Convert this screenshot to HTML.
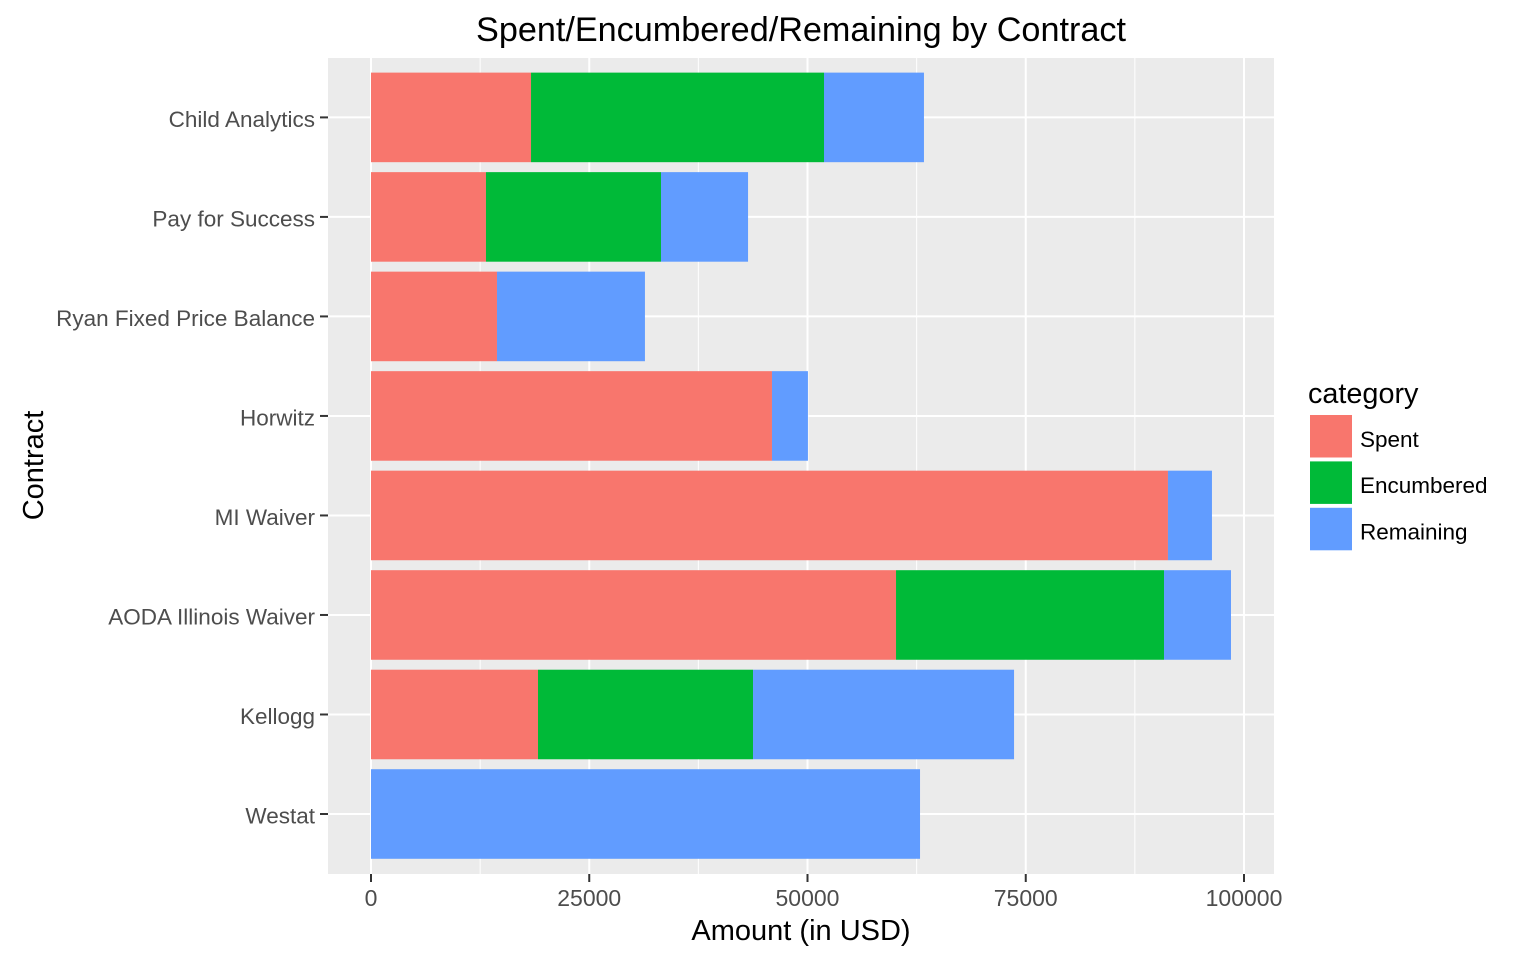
<!DOCTYPE html>
<html lang="en">
<head>
<meta charset="utf-8">
<title>Spent/Encumbered/Remaining by Contract</title>
<style>
html,body{margin:0;padding:0;background:#fff;width:1536px;height:960px;overflow:hidden}
svg{display:block;font-family:"Liberation Sans",Arial,sans-serif}
</style>
</head>
<body>
<svg id="chart" xmlns="http://www.w3.org/2000/svg" width="1536" height="960" viewBox="0 0 1536 960">
<rect x="0" y="0" width="1536" height="960" fill="#ffffff"/>
<rect x="328" y="58" width="946" height="816" fill="#ebebeb"/>
<g id="grid"></g>
<g id="bars"></g>
<g id="axes"></g>
<text x="801" y="41" font-size="34.2" text-anchor="middle" fill="#000">Spent/Encumbered/Remaining by Contract</text>
<text x="801" y="940" font-size="29" text-anchor="middle" fill="#000">Amount (in USD)</text>
<text transform="translate(43,465.5) rotate(-90)" font-size="29" text-anchor="middle" fill="#000">Contract</text>
<g id="legend">
<text x="1308" y="403" font-size="28.8" fill="#000">category</text>
</g>
</svg>
<script>
const categories = ["Westat", "Kellogg", "AODA Illinois Waiver", "MI Waiver", "Horwitz", "Ryan Fixed Price Balance", "Pay for Success", "Child Analytics"];
const seriesNames = ["Spent", "Encumbered", "Remaining"];
const spent = [0, 19130, 60140, 91290, 45930, 14430, 13170, 18330];
const encumbered = [0, 24630, 30700, 0, 0, 0, 20050, 33560];
const remaining = [62890, 29900, 7670, 5040, 4120, 16950, 9970, 11450];
const xTicks = [0, 25000, 50000, 75000, 100000];
const xMinorTicks = [12500, 37500, 62500, 87500];

const seriesColors = ["#F8766D", "#00BA38", "#619CFF"];
const NS = "http://www.w3.org/2000/svg";
const seriesValues = [spent, encumbered, remaining];

function xScale(v) { return 371 + v * (1244 - 371) / 100000; }
function yScale(i) { return 814 - i * (814 - 117.4) / (categories.length - 1); }
const bandHeight = 0.9 * (814 - 117.4) / (categories.length - 1);

function make(tag, attrs, parent) {
  const el = document.createElementNS(NS, tag);
  for (const k in attrs) el.setAttribute(k, attrs[k]);
  parent.appendChild(el);
  return el;
}

const grid = document.getElementById("grid");
const bars = document.getElementById("bars");
const axes = document.getElementById("axes");
const legend = document.getElementById("legend");

xMinorTicks.forEach(function (t) {
  const el = make("line", {x1: xScale(t), x2: xScale(t), y1: 58, y2: 874, stroke: "#ffffff", "stroke-width": 1}, grid);
  
  
});
xTicks.forEach(function (t) {
  const el = make("line", {x1: xScale(t), x2: xScale(t), y1: 58, y2: 874, stroke: "#ffffff", "stroke-width": 2}, grid);
  
  
});
categories.forEach(function (c, i) {
  const el = make("line", {x1: 328, x2: 1274, y1: yScale(i), y2: yScale(i), stroke: "#ffffff", "stroke-width": 2}, grid);
  
  
});

categories.forEach(function (c, i) {
  let acc = 0;
  seriesValues.forEach(function (vals, s) {
    const v = vals[i];
    if (v > 0) {
      const el = make("rect", {
        x: xScale(acc),
        y: yScale(i) - bandHeight / 2,
        width: xScale(acc + v) - xScale(acc),
        height: bandHeight,
        fill: seriesColors[s]
      }, bars);
      
      
    }
    acc += v;
  });
});

xTicks.forEach(function (t) {
  const tick = make("line", {x1: xScale(t), x2: xScale(t), y1: 874, y2: 882, stroke: "#333333", "stroke-width": 2}, axes);
  
  
  const label = make("text", {x: xScale(t), y: 906, "font-size": 23, "text-anchor": "middle", fill: "#4d4d4d"}, axes);
  
  
  label.textContent = String(t);
});
categories.forEach(function (c, i) {
  const tick = make("line", {x1: 320, x2: 328, y1: yScale(i), y2: yScale(i), stroke: "#333333", "stroke-width": 2}, axes);
  
  
  const label = make("text", {x: 315, y: yScale(i) + 9.5, "font-size": 22.5, "text-anchor": "end", fill: "#4d4d4d"}, axes);
  
  
  label.textContent = c;
});

seriesNames.forEach(function (n, i) {
  const key = make("rect", {x: 1310, y: 415 + i * 46.4, width: 42, height: 42.5, fill: seriesColors[i]}, legend);
  
  
  const label = make("text", {x: 1360, y: 447 + i * 46.2, "font-size": 22.5, fill: "#000"}, legend);
  
  
  label.textContent = n;
});
</script>
</body>
</html>
